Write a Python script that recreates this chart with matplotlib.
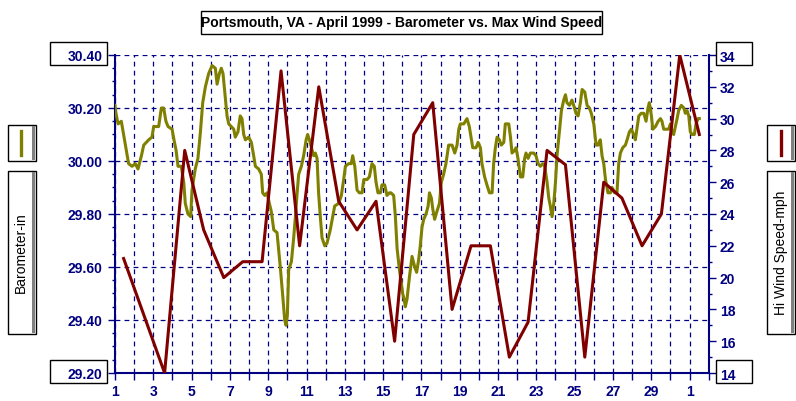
import matplotlib
matplotlib.use('Agg')
import matplotlib.pyplot as plt
from matplotlib.patches import Rectangle
from matplotlib.lines import Line2D
from matplotlib.ticker import MultipleLocator
import numpy as np

plt.rcParams['font.family'] = ['Liberation Sans', 'DejaVu Sans']
plt.rcParams['lines.scale_dashes'] = False

# ---------------- data ----------------
title = "Portsmouth, VA - April 1999 - Barometer vs. Max Wind Speed"
left_label = "Barometer-in"
right_label = "Hi Wind Speed-mph"

x_tick_days = list(range(1, 33))
x_tick_labels = ["1", "", "3", "", "5", "", "7", "", "9", "", "11", "", "13", "", "15", "",
                 "17", "", "19", "", "21", "", "23", "", "25", "", "27", "", "29", "", "1", ""]

baro_ticks = [29.20, 29.40, 29.60, 29.80, 30.00, 30.20, 30.40]
wind_ticks = [14, 16, 18, 20, 22, 24, 26, 28, 30, 32, 34]

baro_day = [1.00, 1.05, 1.16, 1.33, 1.45, 1.57, 1.71, 1.89, 2.06, 2.20, 2.38, 2.50, 2.76, 2.93,
            3.02, 3.28, 3.42, 3.54, 3.66, 3.77, 3.98, 4.08, 4.19, 4.29, 4.46, 4.59, 4.67, 4.81,
            4.95, 5.02, 5.19, 5.33, 5.46, 5.58, 5.72, 5.89, 6.07,
            6.24, 6.33, 6.45, 6.55, 6.64, 6.73, 6.85, 6.94, 7.07, 7.20, 7.28, 7.42, 7.54, 7.63,
            7.72, 7.81, 7.98, 8.12, 8.24, 8.33, 8.50, 8.64, 8.71, 8.82, 8.94, 9.06, 9.16, 9.29,
            9.46, 9.63, 9.76, 9.86, 9.93, 10.00, 10.07, 10.21, 10.33, 10.42, 10.50, 10.59, 10.73,
            10.85, 10.98, 11.06, 11.15, 11.26,
            11.37, 11.46, 11.55, 11.63, 11.72, 11.81, 11.95, 12.07, 12.24, 12.37, 12.47, 12.68,
            12.82, 12.94, 13.03, 13.20, 13.34, 13.41, 13.52, 13.64, 13.76, 13.90, 13.99, 14.16,
            14.28, 14.42, 14.54, 14.63, 14.73, 14.86, 14.94, 15.08, 15.20, 15.33, 15.41, 15.55,
            15.64, 15.73, 15.85, 15.95, 16.02, 16.09, 16.16, 16.25, 16.37,
            16.51, 16.65, 16.75, 16.86, 16.94, 17.03, 17.12, 17.24, 17.35, 17.42, 17.52, 17.59,
            17.69, 17.81, 17.94, 18.04, 18.16, 18.28, 18.42, 18.60, 18.74, 18.86, 18.95, 19.03,
            19.21, 19.38, 19.50, 19.61, 19.68, 19.85, 19.96, 20.08, 20.16, 20.30, 20.42, 20.55,
            20.69, 20.77, 20.86, 20.95, 21.07, 21.17, 21.30, 21.38, 21.56, 21.65,
            21.73, 21.87, 21.94, 22.04, 22.17, 22.29, 22.39, 22.46, 22.57, 22.69, 22.86, 22.98,
            23.09, 23.21, 23.33, 23.44, 23.56, 23.65, 23.73, 23.82, 23.91, 24.00, 24.08, 24.20,
            24.31, 24.43, 24.52, 24.60, 24.73, 24.86, 24.95, 25.07, 25.18, 25.30, 25.39, 25.53,
            25.65, 25.77, 25.87, 26.00, 26.12, 26.22, 26.34, 26.43, 26.52, 26.61, 26.74, 26.87,
            26.95, 27.09, 27.21, 27.30, 27.39, 27.51, 27.65, 27.74, 27.86, 27.96, 28.08, 28.17,
            28.35, 28.48, 28.61, 28.73, 28.83, 28.90, 29.01, 29.08, 29.22, 29.36, 29.48, 29.56,
            29.65, 29.77, 29.91, 30.00, 30.08, 30.17, 30.26, 30.35, 30.43, 30.57, 30.70, 30.78,
            30.87, 30.96, 31.04, 31.13, 31.25, 31.34, 31.44, 31.51]

baro_val = [30.21, 30.18, 30.14, 30.15, 30.10, 30.05, 29.99, 29.98, 29.99, 29.97, 30.02, 30.06, 30.08, 30.09,
            30.13, 30.13, 30.20, 30.20, 30.15, 30.13, 30.12, 30.08, 30.04, 29.98, 29.98, 29.92, 29.84, 29.80,
            29.79, 29.89, 29.97, 30.01, 30.11, 30.22, 30.28, 30.33, 30.36,
            30.35, 30.29, 30.33, 30.35, 30.33, 30.26, 30.17, 30.14, 30.13, 30.12, 30.09, 30.11, 30.17, 30.16,
            30.10, 30.08, 30.09, 30.07, 30.02, 29.98, 29.97, 29.95, 29.88, 29.87, 29.88, 29.84, 29.81, 29.74,
            29.73, 29.60, 29.49, 29.40, 29.38, 29.42, 29.59, 29.62, 29.71, 29.79, 29.87, 29.95, 29.98,
            30.02, 30.08, 30.10, 30.08, 30.05,
            30.02, 30.03, 30.01, 29.88, 29.79, 29.71, 29.68, 29.69, 29.74, 29.79, 29.83, 29.84,
            29.87, 29.93, 29.98, 29.99, 29.99, 30.02, 29.98, 29.89, 29.88, 29.88, 29.93, 29.93,
            29.94, 29.99, 29.98, 29.92, 29.88, 29.88, 29.91, 29.91, 29.87, 29.88, 29.88, 29.87,
            29.79, 29.67, 29.59, 29.54, 29.50, 29.48, 29.45, 29.48, 29.56,
            29.64, 29.60, 29.58, 29.63, 29.68, 29.75, 29.78, 29.80, 29.83, 29.88, 29.86, 29.82,
            29.78, 29.81, 29.84, 29.92, 29.95, 29.99, 30.06, 30.06, 30.03, 30.06, 30.12, 30.14,
            30.14, 30.16, 30.13, 30.08, 30.05, 30.05, 30.07, 30.05, 29.99, 29.94, 29.91, 29.88,
            29.88, 29.99, 30.05, 30.09, 30.08, 30.06, 30.07, 30.14, 30.14, 30.09,
            30.03, 30.04, 30.05, 30.01, 29.94, 29.94, 30.01, 30.03, 30.01, 30.03, 30.03, 30.02,
            29.99, 29.98, 29.99, 29.98, 29.92, 29.86, 29.83, 29.79, 29.84, 29.92, 30.02, 30.11,
            30.19, 30.23, 30.25, 30.22, 30.21, 30.23, 30.21, 30.18, 30.17, 30.22, 30.27, 30.26,
            30.21, 30.20, 30.18, 30.14, 30.06, 30.06, 30.08, 30.02, 29.99, 29.93, 29.88, 29.88,
            29.90, 29.88, 29.88, 29.99, 30.03, 30.05, 30.06, 30.08, 30.11, 30.12, 30.10, 30.08,
            30.17, 30.18, 30.18, 30.15, 30.20, 30.22, 30.17, 30.12, 30.13, 30.15, 30.16, 30.15,
            30.12, 30.12, 30.12, 30.14, 30.11, 30.10, 30.13, 30.16, 30.19, 30.21, 30.20, 30.18,
            30.19, 30.17, 30.11, 30.10, 30.10, 30.14, 30.16, 30.16]

wind_day = [1.45, 3.59, 4.64, 5.63, 6.68, 7.67, 8.68, 9.67, 10.64, 11.64, 12.68, 13.64, 14.63, 15.60,
            16.60, 17.59, 18.60, 19.59, 20.60, 21.59, 22.57, 23.56, 24.52, 25.53, 26.52, 27.47,
            28.52, 29.53, 30.49, 31.51]
wind_val = [21.2, 14, 28, 23, 20, 21, 21, 33, 22, 32, 24.8, 23, 24.8, 16,
            29, 31, 18, 22, 22, 15, 17.2, 28, 27.1, 15, 26, 25,
            22, 24, 34, 29]

# ---------------- styling ----------------
NAVY = '#000080'
OLIVE = '#808000'
MAROON = '#800000'

W, H = 796, 402
fig = plt.figure(figsize=(W / 100, H / 100), dpi=100)
fig.patch.set_facecolor('white')

def fx(x):
    return x / W

def fy(y):
    return 1 - y / H

ax = fig.add_axes([fx(115), fy(374), fx(708.7) - fx(115), fy(56) - fy(374)])
ax2 = ax.twinx()

ax.plot(baro_day, baro_val, color=OLIVE, lw=2.2, zorder=3)
ax2.plot(wind_day, wind_val, color=MAROON, lw=2.2, zorder=3)

ax.set_xlim(1, 32)
ax.set_ylim(29.2, 30.4)
ax2.set_ylim(14, 34)

ax.set_xticks(x_tick_days)
ax.set_xticklabels(x_tick_labels, fontweight='bold', fontsize=10, color=NAVY)
ax.set_yticks(baro_ticks)
ax.set_yticklabels([f"{v:.2f}" for v in baro_ticks], fontweight='bold', fontsize=10, color=NAVY)
ax.yaxis.set_minor_locator(MultipleLocator(0.05))
ax2.set_yticks(wind_ticks)
ax2.set_yticklabels([str(v) for v in wind_ticks], fontweight='bold', fontsize=10, color=NAVY)
ax2.yaxis.set_minor_locator(MultipleLocator(1))

ax.grid(True, which='major', color=NAVY, linestyle=(0, (3.5, 3.0)), lw=0.9)
ax.set_axisbelow(True)

for a in (ax, ax2):
    for s in a.spines.values():
        s.set_color(NAVY)
        s.set_linewidth(1.5)
    a.spines['top'].set_visible(False)
ax.spines['right'].set_visible(False)
ax2.spines['left'].set_visible(False)
ax2.spines['bottom'].set_visible(False)

ax.tick_params(axis='x', which='major', direction='out', length=5, width=1.0, color=NAVY, pad=3)
ax.tick_params(axis='y', which='major', direction='out', length=5, width=1.0, color=NAVY, pad=4)
ax.tick_params(axis='y', which='minor', direction='out', length=2.5, width=1.0, color=NAVY)
ax2.tick_params(axis='y', which='major', direction='out', length=5, width=1.0, color=NAVY, pad=3)
ax2.tick_params(axis='y', which='minor', direction='out', length=2.5, width=1.0, color=NAVY)

def box(x0, y0, x1, y1, shadow=False):
    fig.add_artist(Rectangle((fx(x0), fy(y1)), fx(x1) - fx(x0), (y1 - y0) / H,
                             transform=fig.transFigure, fill=False, edgecolor='black',
                             lw=1.0, clip_on=False))
    if shadow:
        fig.add_artist(Rectangle((fx(x1 - 4), fy(y1 - 1)), 3 / W, (y1 - y0 - 2) / H,
                                 transform=fig.transFigure, facecolor='#808080',
                                 edgecolor='none', clip_on=False))

# title
box(201, 12, 602, 35)
fig.text(fx(401.5), fy(23.5), title, ha='center', va='center', fontsize=10,
         fontweight='bold', color='black')

# end value boxes
box(50, 43, 107, 66)
box(50, 361, 107, 384)
box(716, 43, 752, 66)
box(716, 361, 752, 384)

# legend boxes left
box(8, 126, 36, 162, shadow=True)
fig.add_artist(Line2D([fx(21), fx(21)], [fy(132), fy(156)], color=OLIVE, lw=2.4,
                      transform=fig.transFigure))
box(8, 172, 36, 335, shadow=True)
fig.text(fx(21), fy(253), left_label, rotation=90, ha='center', va='center',
         fontsize=10, color='black')

# legend boxes right
box(767, 126, 794.5, 162, shadow=True)
fig.add_artist(Line2D([fx(781), fx(781)], [fy(132), fy(156)], color=MAROON, lw=2.4,
                      transform=fig.transFigure))
box(767, 172, 794.5, 335, shadow=True)
fig.text(fx(781), fy(253), right_label, rotation=90, ha='center', va='center',
         fontsize=10, color='black')

fig.savefig('out.png', dpi=100, facecolor='white')
